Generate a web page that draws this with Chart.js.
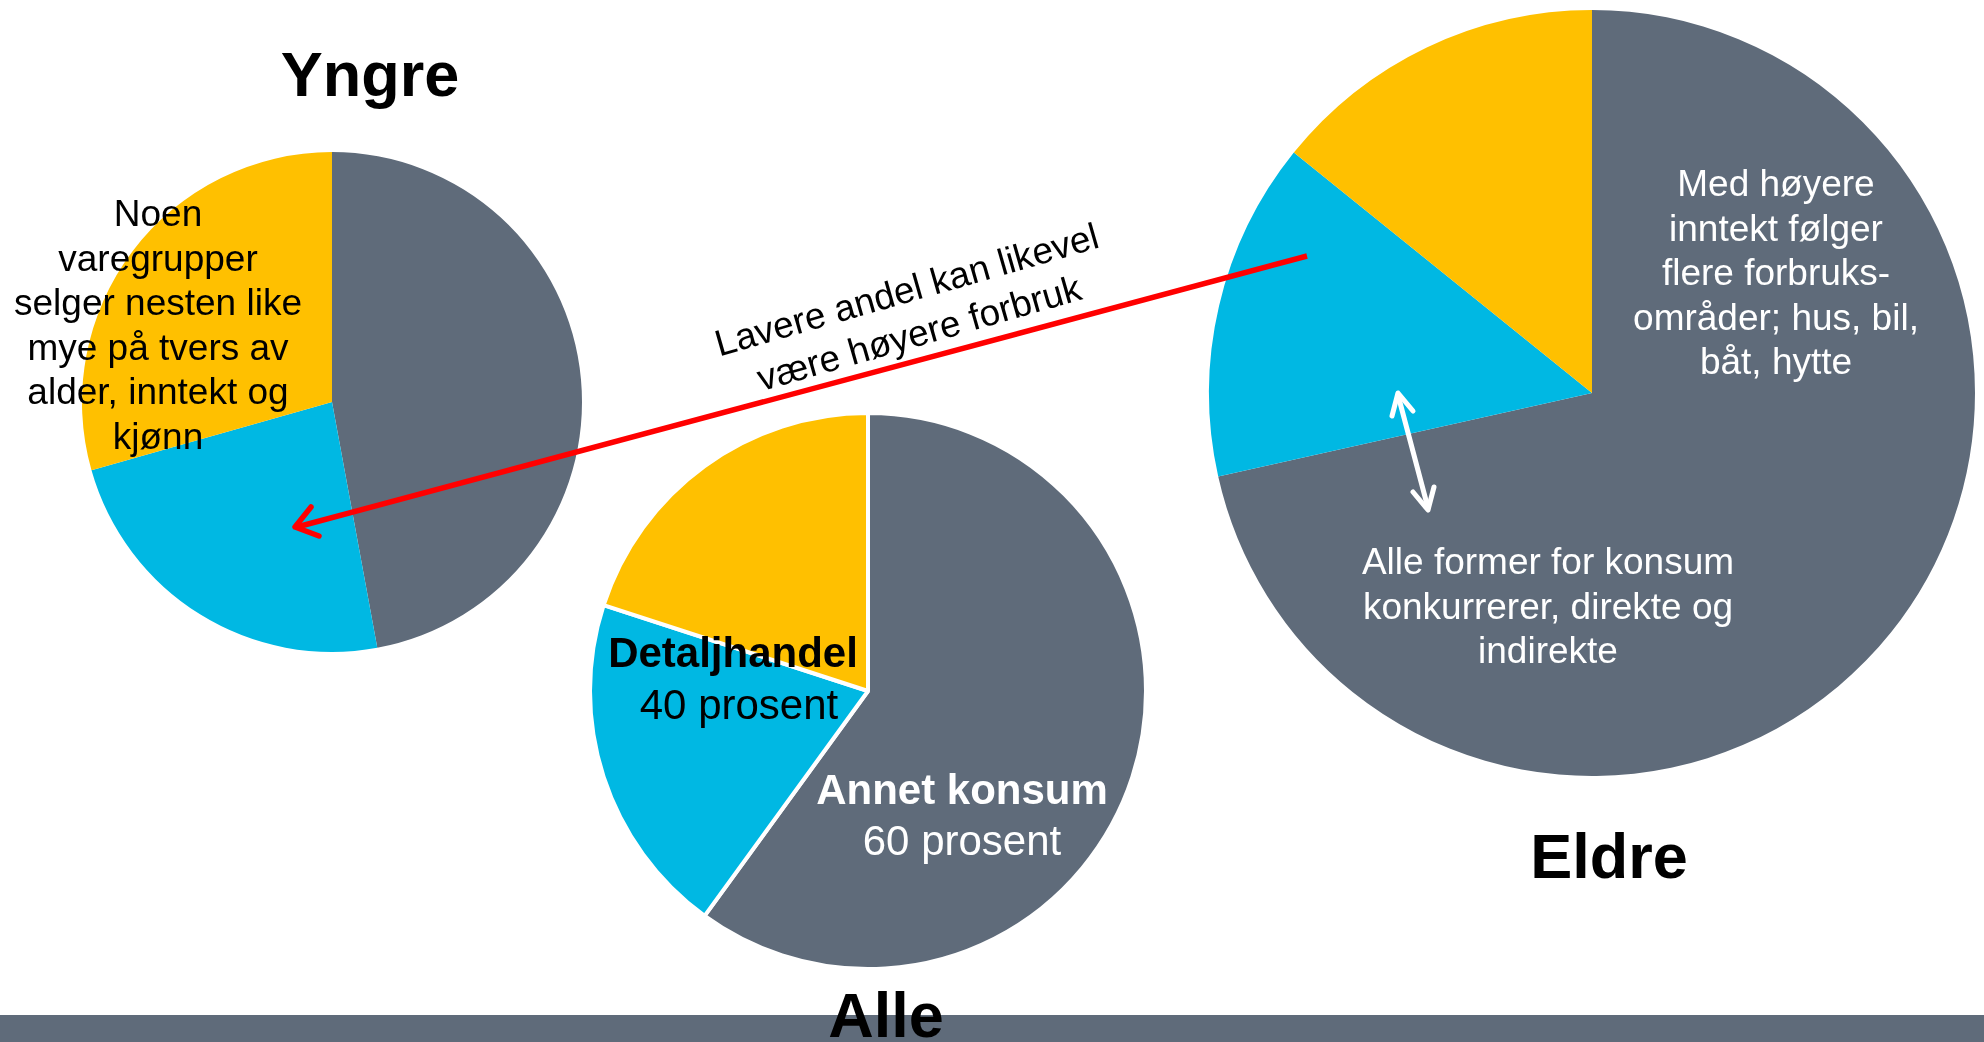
<!DOCTYPE html>
<html>
<head>
<meta charset="utf-8">
<title>Detaljhandel - Yngre, Alle, Eldre</title>
<script src="https://cdn.jsdelivr.net/npm/chart.js@4.4.0/dist/chart.umd.min.js"></script>
<style>
	body { margin: 0; width: 1984px; height: 1042px; overflow: hidden; background: #fff; position: relative; font-family: "Liberation Sans", Arial, sans-serif; }
	canvas { position: absolute; }
	.lbl { position: absolute; transform: translate(-50%, -50%); white-space: nowrap; text-align: center; }
	.title { font-size: 63px; font-weight: bold; line-height: 63px; color: #000; }
	.note { font-size: 37px; line-height: 44.6px; }
	.big { font-size: 42px; line-height: 48px; }
	#bar { position: absolute; left: 0; top: 1015px; width: 1984px; height: 27px; background: #5f6b7a; }
	svg { position: absolute; left: 0; top: 0; }
</style>
</head>
<body>
	<div id="bar"></div>
	<canvas id="yngre" width="520" height="520" style="left:72px; top:142px"></canvas>
	<canvas id="alle" width="580" height="580" style="left:578px; top:401px"></canvas>
	<canvas id="eldre" width="790" height="790" style="left:1197px; top:-2px"></canvas>

	<svg width="1984" height="1042">
		<!-- rød pil -->
		<line x1="1307" y1="256" x2="297" y2="527" stroke="#ff0000" stroke-width="5.5"/>
		<polyline points="311,507 295,527 319,536" fill="none" stroke="#ff0000" stroke-width="5.5" stroke-linecap="round" stroke-linejoin="round"/>
		<!-- hvit dobbeltpil -->
		<line x1="1398" y1="395" x2="1428" y2="508" stroke="#fff" stroke-width="5" stroke-linecap="round"/>
		<polyline points="1392,416 1398,393 1413,411" fill="none" stroke="#fff" stroke-width="5" stroke-linecap="round" stroke-linejoin="round"/>
		<polyline points="1413,492 1428,510 1434,487" fill="none" stroke="#fff" stroke-width="5" stroke-linecap="round" stroke-linejoin="round"/>
	</svg>

	<div class="lbl title" style="left:370px; top:74px">Yngre</div>
	<div class="lbl title" style="left:886px; top:1015px">Alle</div>
	<div class="lbl title" style="left:1609px; top:856px">Eldre</div>

	<div class="lbl note" style="left:158px; top:326px">Noen<br>varegrupper<br>selger nesten like<br>mye på tvers av<br>alder, inntekt og<br>kjønn</div>
	<div class="lbl note" style="left:913px; top:312px; transform: translate(-50%, -50%) rotate(-16deg)">Lavere andel kan likevel<br>være høyere forbruk</div>
	<div class="lbl note" style="left:1776px; top:273px; color:#fff">Med høyere<br>inntekt følger<br>flere forbruks-<br>områder; hus, bil,<br>båt, hytte</div>
	<div class="lbl note" style="left:1548px; top:607px; color:#fff">Alle former for konsum<br>konkurrerer, direkte og<br>indirekte</div>

	<div class="lbl big" style="left:733px; top:653px; font-weight:bold">Detaljhandel</div>
	<div class="lbl big" style="left:739px; top:705px">40 prosent</div>
	<div class="lbl big" style="left:962px; top:790px; font-weight:bold; color:#fff">Annet konsum</div>
	<div class="lbl big" style="left:962px; top:841px; color:#fff">60 prosent</div>

	<script>
		// andeler av forbruket (prosent), med klokka fra toppen
		const categories = ['Annet konsum', 'Detaljhandel, øvrige varer', 'Detaljhandel, like varegrupper'];
		const colors = ['#5f6b7a', '#00b8e3', '#ffc000'];
		const yngreValues = [47.1, 23.5, 29.4];
		const alleValues = [60, 20, 20];
		const eldreValues = [71.5, 14.3, 14.2];

		function makePie (id, values, radius, border) {
			const ctx = document.getElementById(id).getContext('2d');
			return new Chart(ctx, {
				type: 'pie',
				data: {
					labels: categories,
					datasets: [{
						data: values,
						backgroundColor: colors,
						borderColor: '#ffffff',
						borderWidth: border
					}]
				},
				options: {
					responsive: false,
					animation: false,
					radius: radius,
					events: [],
					layout: { padding: 0 },
					plugins: {
						legend: { display: false },
						tooltip: { enabled: false },
						title: { display: false }
					}
				}
			});
		}

		makePie('yngre', yngreValues, 250, 0);
		makePie('alle', alleValues, 278, 4);
		makePie('eldre', eldreValues, 383, 0);
	</script>
</body>
</html>
